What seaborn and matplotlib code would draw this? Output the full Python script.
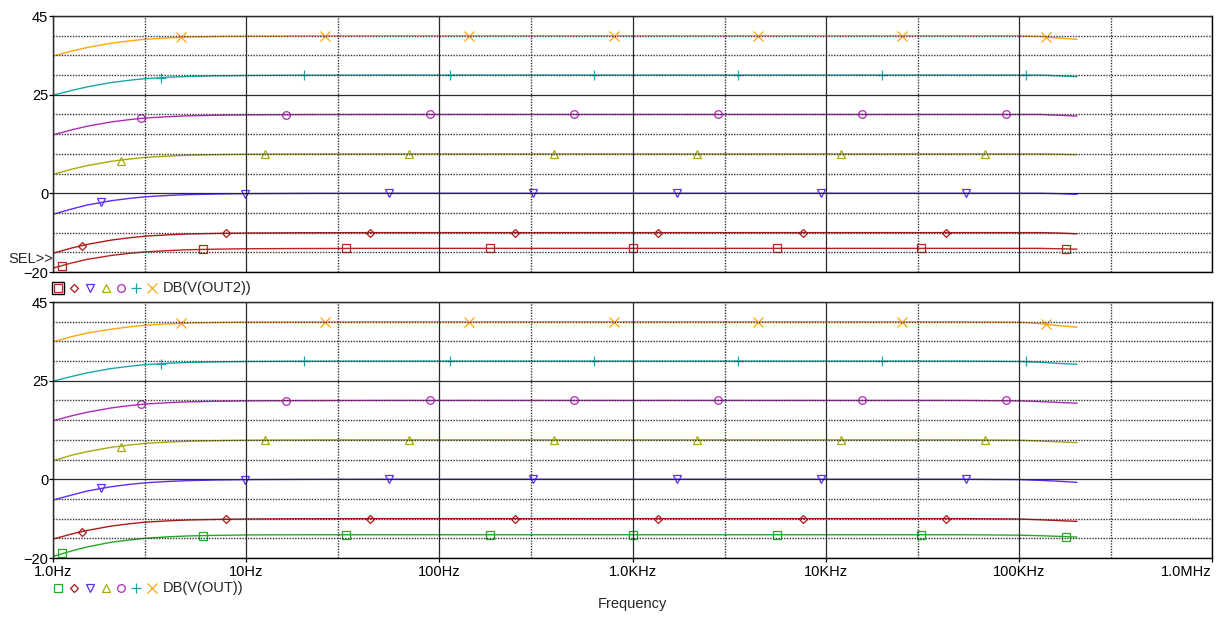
import numpy as np
import pandas as pd
import seaborn as sns
import matplotlib.pyplot as plt
from matplotlib.lines import Line2D
from matplotlib.patches import Rectangle
from matplotlib.ticker import FixedLocator, FixedFormatter, NullFormatter

freq = [1, 1.25, 1.5, 2, 2.5, 3, 4, 5, 7, 10, 20, 50, 100, 1e3, 1e4, 5e4, 1e5, 1.3e5, 1.6e5, 2e5]

# top panel: DB(V(OUT2))
out2_sq = [-19.0, -17.7, -16.8, -15.8, -15.25, -14.9, -14.55, -14.35, -14.2, -14.1, -14.03, -14, -14, -14, -14, -14, -14, -14, -14.1, -14.2]
out2_dia = [-15.25, -13.9, -13.0, -11.9, -11.3, -10.9, -10.55, -10.35, -10.2, -10.1, -10.03, -10, -10, -10, -10, -10, -10, -10, -10.1, -10.3]
out2_tdn = [-5.35, -4.0, -3.0, -1.9, -1.3, -0.9, -0.55, -0.35, -0.2, -0.1, -0.03, 0, 0, 0, 0, 0, 0, 0, -0.1, -0.3]
out2_tup = [4.8, 6.1, 7.0, 8.1, 8.7, 9.1, 9.45, 9.65, 9.8, 9.9, 9.97, 10, 10, 10, 10, 10, 10, 10, 9.9, 9.8]
out2_circ = [14.8, 16.1, 17.0, 18.1, 18.7, 19.1, 19.45, 19.65, 19.8, 19.9, 19.97, 20, 20, 20, 20, 20, 20, 20, 19.8, 19.6]
out2_plus = [24.9, 26.1, 27.0, 28.1, 28.7, 29.1, 29.45, 29.65, 29.8, 29.9, 29.97, 30, 30, 30, 30, 30, 30, 30, 29.8, 29.6]
out2_x = [34.8, 36.1, 37.0, 38.1, 38.7, 39.1, 39.45, 39.65, 39.8, 39.9, 39.97, 40, 40, 40, 40, 40, 40, 39.8, 39.4, 39.1]

# bottom panel: DB(V(OUT))
out_sq = [-19.6, -18.2, -17.2, -16.0, -15.4, -15.0, -14.6, -14.4, -14.25, -14.15, -14.1, -14.1, -14.1, -14.1, -14.1, -14.1, -14.2, -14.35, -14.5, -14.7]
out_dia = [-15.2, -13.9, -13.0, -11.9, -11.3, -10.9, -10.55, -10.35, -10.2, -10.1, -10.03, -10, -10, -10, -10, -10, -10.1, -10.3, -10.5, -10.7]
out_tdn = [-5.3, -4.0, -3.0, -1.9, -1.3, -0.9, -0.55, -0.35, -0.2, -0.1, -0.03, 0, 0, 0, 0, 0, -0.1, -0.3, -0.5, -0.8]
out_tup = [4.7, 6.1, 7.0, 8.1, 8.7, 9.1, 9.45, 9.65, 9.8, 9.9, 9.97, 10, 10, 10, 10, 10, 9.9, 9.7, 9.5, 9.3]
out_circ = [14.85, 16.1, 17.0, 18.1, 18.7, 19.1, 19.45, 19.65, 19.8, 19.9, 19.97, 20, 20, 20, 20, 20, 19.9, 19.7, 19.5, 19.3]
out_plus = [24.9, 26.1, 27.0, 28.1, 28.7, 29.1, 29.45, 29.65, 29.8, 29.9, 29.97, 30, 30, 30, 30, 30, 29.9, 29.7, 29.4, 29.2]
out_x = [34.9, 36.2, 37.1, 38.1, 38.7, 39.1, 39.45, 39.65, 39.8, 39.9, 39.97, 40, 40, 40, 40, 40, 39.9, 39.5, 39.0, 38.6]

# marker positions (Hz) of each trace
sq_f = [1.11, 6.0, 33, 182, 1.01e3, 5.6e3, 31e3, 175e3]
dia_f = [1.41, 7.9, 44, 245, 1.36e3, 7.6e3, 42e3]
tdn_f = [1.77, 9.9, 55, 305, 1.7e3, 9.5e3, 53e3]
tup_f = [2.25, 12.5, 70, 390, 2.17e3, 12e3, 67e3]
circ_f = [2.86, 16, 89, 495, 2.76e3, 15.4e3, 86e3]
plus_f = [3.63, 20, 113, 630, 3.5e3, 19.5e3, 109e3]
x_f = [4.6, 25.7, 143, 800, 4.45e3, 24.8e3, 138e3]

# marker values, top panel
out2_sq_m = [-18.6, -14.2, -14, -14, -14, -14, -14, -14.15]
out2_dia_m = [-13.4, -10.15, -10, -10, -10, -10, -10]
out2_tdn_m = [-2.3, -0.1, 0, 0, 0, 0, 0]
out2_tup_m = [8.3, 9.95, 10, 10, 10, 10, 10]
out2_circ_m = [19.0, 19.97, 20, 20, 20, 20, 20]
out2_plus_m = [29.3, 29.98, 30, 30, 30, 30, 30]
out2_x_m = [39.6, 39.98, 40, 40, 40, 40, 39.7]

# marker values, bottom panel
out_sq_m = [-18.8, -14.3, -14.1, -14.1, -14.1, -14.1, -14.1, -14.6]
out_dia_m = [-13.4, -10.15, -10, -10, -10, -10, -10]
out_tdn_m = [-2.3, -0.1, 0, 0, 0, 0, 0]
out_tup_m = [8.3, 9.95, 10, 10, 10, 10, 10]
out_circ_m = [19.0, 19.97, 20, 20, 20, 20, 20]
out_plus_m = [29.3, 29.98, 30, 30, 30, 30, 29.95]
out_x_m = [39.6, 39.98, 40, 40, 40, 40, 39.4]

x_ticks = [1, 10, 100, 1e3, 1e4, 1e5, 1e6]
x_tick_labels = ["1.0Hz", "10Hz", "100Hz", "1.0KHz", "10KHz", "100KHz", "1.0MHz"]
x_minor = [3, 30, 300, 3e3, 3e4, 3e5]
y_ticks = [-20, 0, 25, 45]
y_minor = [-15, -10, -5, 5, 10, 15, 20, 30, 35, 40]

traces = ["sq", "dia", "tdn", "tup", "circ", "plus", "x"]
marker_style = {"sq": "s", "dia": "D", "tdn": "v", "tup": "^", "circ": "o", "plus": "+", "x": "x"}
marker_size = {"sq": 5.5, "dia": 4.2, "tdn": 5.8, "tup": 5.8, "circ": 5.5, "plus": 7, "x": 6.5}
colors_top = {"sq": "#bb2222", "dia": "#b01818", "tdn": "#5f2cf5", "tup": "#a8a810",
              "circ": "#b028b8", "plus": "#18a8a8", "x": "#ffa510"}
colors_bot = dict(colors_top, sq="#22aa22")

sns.set_theme(style="white")
plt.rcParams["font.family"] = ["Liberation Sans", "DejaVu Sans"]
plt.rcParams["font.size"] = 10.5

W, H = 1227, 617
fig = plt.figure(figsize=(W / 100, H / 100), dpi=100)
ax_top = fig.add_axes([53 / W, 1 - 272 / H, 1159 / W, 256 / H])
ax_bot = fig.add_axes([53 / W, 1 - 558 / H, 1159 / W, 256 / H])


def draw_panel(ax, curves, marks, colors):
    df = pd.concat([pd.DataFrame({"freq": freq, "db": curves[t], "trace": t}) for t in traces])
    ax.set_xscale("log")
    sns.lineplot(data=df, x="freq", y="db", hue="trace", palette=colors, legend=False,
                 estimator=None, sort=False, lw=1.0, ax=ax)
    for t in traces:
        mf, mv = marks[t]
        ax.plot(mf, mv, ls="none", marker=marker_style[t], ms=marker_size[t],
                mfc="none", mec=colors[t], mew=0.9)
    ax.set_xlim(1, 1e6)
    ax.set_ylim(-20, 45)
    ax.xaxis.set_major_locator(FixedLocator(x_ticks))
    ax.xaxis.set_minor_locator(FixedLocator(x_minor))
    ax.xaxis.set_minor_formatter(NullFormatter())
    ax.yaxis.set_major_locator(FixedLocator(y_ticks))
    ax.yaxis.set_minor_locator(FixedLocator(y_minor))
    ax.grid(which="major", color="#2a2a2a", lw=0.9, ls="-")
    ax.grid(which="minor", color="#333333", lw=1.0, ls=(0, (1, 1)))
    ax.set_axisbelow(False)
    ax.tick_params(axis="y", which="major", direction="out", length=3, width=0.9,
                   pad=0.5, labelsize=10.5, colors="black", left=True)
    ax.tick_params(which="minor", length=0)
    for s in ax.spines.values():
        s.set_color("black")
        s.set_linewidth(1.0)
    ax.set_xlabel("")
    ax.set_ylabel("")


draw_panel(ax_top,
           dict(sq=out2_sq, dia=out2_dia, tdn=out2_tdn, tup=out2_tup, circ=out2_circ, plus=out2_plus, x=out2_x),
           dict(sq=(sq_f, out2_sq_m), dia=(dia_f, out2_dia_m), tdn=(tdn_f, out2_tdn_m), tup=(tup_f, out2_tup_m),
                circ=(circ_f, out2_circ_m), plus=(plus_f, out2_plus_m), x=(x_f, out2_x_m)),
           colors_top)
draw_panel(ax_bot,
           dict(sq=out_sq, dia=out_dia, tdn=out_tdn, tup=out_tup, circ=out_circ, plus=out_plus, x=out_x),
           dict(sq=(sq_f, out_sq_m), dia=(dia_f, out_dia_m), tdn=(tdn_f, out_tdn_m), tup=(tup_f, out_tup_m),
                circ=(circ_f, out_circ_m), plus=(plus_f, out_plus_m), x=(x_f, out_x_m)),
           colors_bot)

ax_top.tick_params(axis="x", which="major", length=0, labelbottom=False)
ax_bot.xaxis.set_major_formatter(FixedFormatter(x_tick_labels))
ax_bot.tick_params(axis="x", which="major", direction="out", length=3, width=0.9,
                   pad=2, labelsize=10.5, colors="black", bottom=True)
ax_bot.get_xticklabels()[-1].set_horizontalalignment("right")
ax_bot.set_xlabel("Frequency", fontsize=10.5, labelpad=13)

ax_top.text(0, -16.7, "SEL>>", transform=ax_top.get_yaxis_transform(),
            ha="right", va="center", fontsize=10.5)


def legend_row(y, colors, label, boxed):
    xs = [58, 74, 90, 106, 121, 136, 152]
    for xp, t in zip(xs, traces):
        fig.add_artist(Line2D([xp / W], [1 - y / H], transform=fig.transFigure, ls="none",
                              marker=marker_style[t], ms=marker_size[t], mfc="none",
                              mec=colors[t], mew=0.9))
    if boxed:
        fig.add_artist(Rectangle(((58 - 6) / W, 1 - (y + 6) / H), 12 / W, 12 / H,
                                 transform=fig.transFigure, fill=False, ec="black", lw=1.0))
    fig.text(163 / W, 1 - y / H, label, ha="left", va="center", fontsize=10.5)


legend_row(288, colors_top, "DB(V(OUT2))", True)
legend_row(588, colors_bot, "DB(V(OUT))", False)

fig.savefig("out.png", dpi=100)
